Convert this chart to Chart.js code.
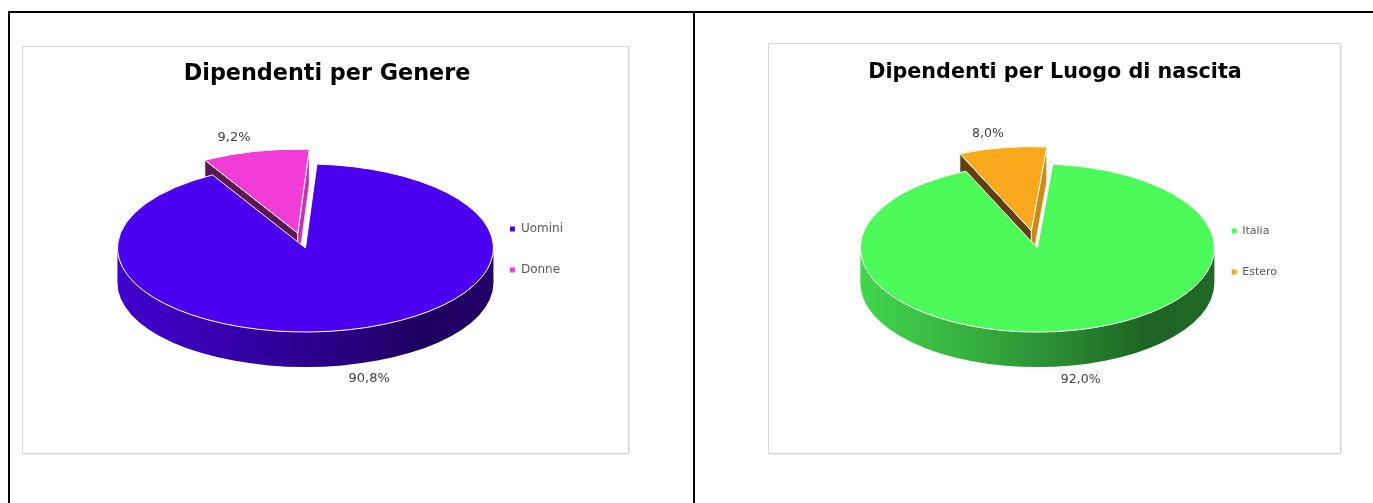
<!DOCTYPE html>
<html>
<head>
<meta charset="utf-8">
<script src="https://cdn.jsdelivr.net/npm/chart.js@4.4.1/dist/chart.umd.min.js"></script>
<style>
  body { margin: 0; background: #fff; width: 1373px; height: 503px; overflow: hidden; position: relative; }
  .rule { position: absolute; background: #000; }
  .box { position: absolute; border: 1px solid #d6d6d6; box-shadow: 1px 1px 0 #ececec; background: #fff; }
  .box canvas { position: absolute; left: 0; top: 0; }
</style>
</head>
<body>
<div class="rule" style="left:8px;top:11px;width:1365px;height:2px"></div>
<div class="rule" style="left:8px;top:11px;width:2px;height:492px"></div>
<div class="rule" style="left:693px;top:11px;width:2px;height:492px"></div>

<div class="box" style="left:22px;top:46px;width:605px;height:406px">
  <canvas id="genere" width="605" height="406"></canvas>
</div>
<div class="box" style="left:768px;top:43px;width:571px;height:409px">
  <canvas id="nascita" width="571" height="409"></canvas>
</div>

<script>
// dati
const genereLabels = ['Uomini', 'Donne'];
const generePct = [90.8, 9.2];
const nascitaLabels = ['Italia', 'Estero'];
const nascitaPct = [92.0, 8.0];

const fmtPct = v => v.toFixed(1).replace('.', ',') + '%';

function shade(hex, f) {
  const n = parseInt(hex.slice(1), 16);
  const r = Math.round(((n >> 16) & 255) * f);
  const g = Math.round(((n >> 8) & 255) * f);
  const b = Math.round((n & 255) * f);
  return `rgb(${r},${g},${b})`;
}

// torta 3D disegnata dagli archi calcolati da Chart.js
const pie3d = {
  id: 'pie3d',
  beforeDatasetsDraw(chart, args, opts) {
    const ctx = chart.ctx;
    const meta = chart.getDatasetMeta(0);
    const values = chart.data.datasets[0].data;
    const k = opts.tilt, D = opts.depth;
    const slices = meta.data.map((arc, i) => {
      const p = arc.getProps(['x', 'y', 'startAngle', 'endAngle', 'outerRadius']);
      const mid = (p.startAngle + p.endAngle) / 2;
      const off = arc.options.offset || 0;
      return {
        i, a0: p.startAngle, a1: p.endAngle, mid, R: p.outerRadius,
        cx: p.x + opts.shiftX + Math.cos(mid) * off,
        cy: p.y + opts.shiftY + Math.sin(mid) * off * k,
        color: arc.options.backgroundColor
      };
    });
    // dal fondo verso il davanti
    const order = slices.slice().sort((a, b) => Math.sin(a.mid) - Math.sin(b.mid));

    ctx.save();
    ctx.lineJoin = 'round';
    order.forEach(s => {
      const {cx, cy, R, a0, a1, color} = s;
      const ry = R * k;
      const wall = (a, f) => {
        const x = cx + R * Math.cos(a), y = cy + ry * Math.sin(a);
        ctx.beginPath();
        ctx.moveTo(cx, cy);
        ctx.lineTo(x, y);
        ctx.lineTo(x, y + D);
        ctx.lineTo(cx, cy + D);
        ctx.closePath();
        ctx.fillStyle = shade(color, f);
        ctx.fill();
        ctx.strokeStyle = 'rgba(255,255,255,0.9)';
        ctx.lineWidth = 0.8;
        ctx.stroke();
      };
      if (Math.cos(a0) < 0) wall(a0, 0.38);
      if (Math.cos(a1) > 0) wall(a1, 0.82);

      // parete esterna visibile (meta' anteriore)
      const grad = ctx.createLinearGradient(cx - R, 0, cx + R, 0);
      grad.addColorStop(0, shade(color, 0.86));
      grad.addColorStop(0.35, shade(color, 0.68));
      grad.addColorStop(0.62, shade(color, 0.52));
      grad.addColorStop(0.8, shade(color, 0.4));
      grad.addColorStop(1, shade(color, 0.42));
      for (let n = -1; n <= 2; n++) {
        const st = Math.max(a0, 2 * Math.PI * n);
        const en = Math.min(a1, 2 * Math.PI * n + Math.PI);
        if (en <= st) continue;
        ctx.beginPath();
        ctx.ellipse(cx, cy, R, ry, 0, st, en, false);
        ctx.ellipse(cx, cy + D, R, ry, 0, en, st, true);
        ctx.closePath();
        ctx.fillStyle = grad;
        ctx.fill();
      }

      // faccia superiore
      ctx.beginPath();
      ctx.moveTo(cx, cy);
      ctx.ellipse(cx, cy, R, ry, 0, a0, a1, false);
      ctx.closePath();
      ctx.fillStyle = color;
      ctx.fill();
      ctx.strokeStyle = '#fff';
      ctx.lineWidth = 1;
      ctx.stroke();
    });

    // etichette percentuali
    ctx.fillStyle = '#404040';
    ctx.font = opts.labelFont;
    ctx.textAlign = 'center';
    ctx.textBaseline = 'middle';
    slices.forEach(s => {
      const sin = Math.sin(s.mid);
      const x = s.cx + Math.cos(s.mid) * s.R * opts.labelX;
      const y = s.cy + sin * s.R * k * opts.labelY + (sin > 0 ? D : 0);
      ctx.fillText(fmtPct(values[s.i]), x, y);
    });
    ctx.restore();
    return false;
  }
};

function makePie(id, title, labels, values, colors, o) {
  return new Chart(document.getElementById(id), {
    type: 'pie',
    data: {
      labels: labels,
      datasets: [{
        data: values,
        backgroundColor: colors,
        borderWidth: 0,
        offset: o.offset
      }]
    },
    options: {
      responsive: false,
      animation: false,
      events: [],
      rotation: o.rotation,
      radius: o.radius,
      layout: { padding: o.padding },
      plugins: {
        title: {
          display: true,
          text: title,
          color: '#000',
          font: { family: 'DejaVu Sans', size: o.titleSize, weight: 'bold' },
          padding: { top: o.titleTop, bottom: 0 }
        },
        legend: {
          position: 'right',
          fullSize: false,
          labels: {
            boxWidth: 5,
            boxHeight: 5,
            padding: o.legendGap,
            color: '#595959',
            font: { family: 'DejaVu Sans', size: o.legendSize }
          }
        },
        tooltip: { enabled: false },
        pie3d: {
          tilt: o.tilt, depth: 35, labelX: 1.5, labelY: 1.17,
          shiftX: o.shiftX, shiftY: o.shiftY, labelFont: o.labelFont
        }
      }
    },
    plugins: [pie3d]
  });
}

makePie('genere', 'Dipendenti per Genere', genereLabels, generePct,
  ['#4b00f0', '#f23cd8'],
  { offset: [0, 34], rotation: 3.5, radius: 188, tilt: 0.447,
    padding: { left: 58, right: 55, top: 0, bottom: 41.8 },
    titleSize: 22.3, titleTop: 14, legendGap: 29,
    legendSize: 12, labelFont: '13px "DejaVu Sans"', shiftX: 24.5, shiftY: -1.5 });

makePie('nascita', 'Dipendenti per Luogo di nascita', nascitaLabels, nascitaPct,
  ['#4cfa5a', '#f9a91b'],
  { offset: [0, 37], rotation: 5, radius: 177, tilt: 0.475,
    padding: { left: 54, right: 53, top: 0, bottom: 34.6 },
    titleSize: 20.7, titleTop: 15.8, legendGap: 30,
    legendSize: 11, labelFont: '12.5px "DejaVu Sans"', shiftX: 25, shiftY: -3.5 });
</script>
</body>
</html>
